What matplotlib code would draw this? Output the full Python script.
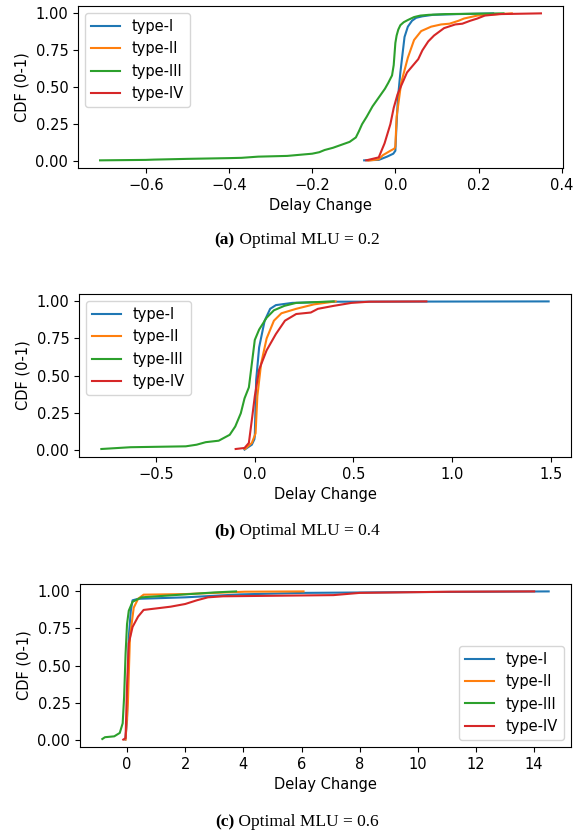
import matplotlib
matplotlib.use("Agg")
import matplotlib.pyplot as plt

plt.rcParams['font.family'] = ['DejaVu Sans']
plt.rcParams['font.size'] = 10.5

labels = ["type-I", "type-II", "type-III", "type-IV"]
colors = ["#1f77b4", "#ff7f0e", "#2ca02c", "#d62728"]

# (a) Optimal MLU = 0.2
a1_x = [-0.075, -0.04, -0.02, -0.005, 0.0, 0.002, 0.006, 0.012, 0.017, 0.022, 0.03, 0.04, 0.05, 0.065, 0.09, 0.15, 0.235]
a1_y = [0.005, 0.008, 0.03, 0.05, 0.07, 0.2, 0.42, 0.6, 0.72, 0.84, 0.91, 0.95, 0.97, 0.98, 0.99, 0.995, 1.0]
a2_x = [-0.065, -0.04, -0.03, -0.012, -0.002, 0.0, 0.003, 0.014, 0.03, 0.045, 0.062, 0.086, 0.11, 0.13, 0.152, 0.165, 0.197, 0.22, 0.28]
a2_y = [0.003, 0.012, 0.04, 0.07, 0.085, 0.1, 0.3, 0.53, 0.7, 0.82, 0.88, 0.91, 0.925, 0.93, 0.95, 0.965, 0.985, 0.99, 1.0]
a3_x = [-0.71, -0.6, -0.58, -0.5, -0.4, -0.37, -0.33, -0.26, -0.2, -0.183, -0.17, -0.15, -0.13, -0.11, -0.095, -0.088, -0.08, -0.069,
        -0.055, -0.04, -0.025, -0.017, -0.008, -0.004, 0.0, 0.003, 0.007, 0.012, 0.02, 0.03, 0.045, 0.06, 0.08, 0.12, 0.2, 0.26]
a3_y = [0.005, 0.008, 0.01, 0.015, 0.02, 0.022, 0.03, 0.035, 0.05, 0.06, 0.075, 0.09, 0.11, 0.13, 0.16, 0.2, 0.25, 0.3,
        0.37, 0.43, 0.49, 0.53, 0.58, 0.65, 0.8, 0.85, 0.89, 0.92, 0.94, 0.955, 0.975, 0.985, 0.99, 0.995, 0.998, 1.0]
a4_x = [-0.07, -0.04, -0.026, -0.012, -0.004, 0.005, 0.014, 0.028, 0.04, 0.055, 0.065, 0.079, 0.093, 0.117, 0.144, 0.161, 0.18, 0.197, 0.215, 0.25, 0.35]
a4_y = [0.005, 0.025, 0.12, 0.25, 0.36, 0.45, 0.51, 0.6, 0.64, 0.69, 0.75, 0.81, 0.85, 0.9, 0.925, 0.93, 0.95, 0.965, 0.985, 0.995, 1.0]

# (b) Optimal MLU = 0.4
b1_x = [-0.052, -0.015, -0.002, 0.0, 0.007, 0.022, 0.05, 0.078, 0.107, 0.19, 0.4, 1.49]
b1_y = [0.0, 0.033, 0.07, 0.09, 0.47, 0.69, 0.87, 0.95, 0.975, 0.99, 0.998, 1.0]
b2_x = [-0.05, -0.015, 0.004, 0.013, 0.032, 0.06, 0.097, 0.135, 0.21, 0.3, 0.41]
b2_y = [0.004, 0.045, 0.11, 0.36, 0.58, 0.75, 0.87, 0.92, 0.95, 0.98, 1.0]
b3_x = [-0.778, -0.63, -0.35, -0.295, -0.249, -0.183, -0.127, -0.099, -0.071, -0.052, -0.03, -0.015, 0.0, 0.022, 0.06, 0.097, 0.15, 0.21, 0.4]
b3_y = [0.004, 0.016, 0.022, 0.033, 0.05, 0.06, 0.1, 0.156, 0.245, 0.346, 0.42, 0.58, 0.74, 0.81, 0.89, 0.94, 0.97, 0.99, 1.0]
b4_x = [-0.097, -0.052, -0.03, -0.015, 0.0, 0.022, 0.06, 0.107, 0.153, 0.21, 0.284, 0.32, 0.4, 0.49, 0.58, 0.87]
b4_y = [0.004, 0.011, 0.045, 0.2, 0.36, 0.54, 0.67, 0.78, 0.87, 0.915, 0.925, 0.95, 0.97, 0.99, 0.998, 1.0]

# (c) Optimal MLU = 0.6
c1_x = [-0.06, 0.0, 0.06, 0.13, 0.19, 0.38, 2.0, 3.9, 6.07, 9.6, 14.5]
c1_y = [0.0, 0.13, 0.69, 0.87, 0.94, 0.95, 0.96, 0.98, 0.99, 0.995, 1.0]
c2_x = [-0.05, 0.03, 0.1, 0.23, 0.38, 0.57, 2.0, 4.05, 6.07]
c2_y = [0.0, 0.25, 0.69, 0.89, 0.95, 0.978, 0.982, 0.998, 1.0]
c3_x = [-0.85, -0.76, -0.44, -0.25, -0.15, -0.1, -0.05, 0.0, 0.06, 0.19, 0.5, 2.0, 3.0, 3.75]
c3_y = [0.004, 0.016, 0.022, 0.045, 0.11, 0.29, 0.58, 0.78, 0.87, 0.93, 0.96, 0.98, 0.993, 1.0]
c4_x = [-0.13, -0.05, 0.0, 0.06, 0.19, 0.38, 0.57, 1.0, 1.5, 2.0, 2.4, 2.78, 3.3, 7.1, 8.0, 11.1, 14.0]
c4_y = [0.0, 0.01, 0.36, 0.65, 0.76, 0.83, 0.875, 0.885, 0.897, 0.915, 0.94, 0.96, 0.967, 0.975, 0.99, 0.998, 1.0]

panels = [
    ([(a1_x, a1_y), (a2_x, a2_y), (a3_x, a3_y), (a4_x, a4_y)], "upper left", "(a)", "Optimal MLU = 0.2"),
    ([(b1_x, b1_y), (b2_x, b2_y), (b3_x, b3_y), (b4_x, b4_y)], "upper left", "(b)", "Optimal MLU = 0.4"),
    ([(c1_x, c1_y), (c2_x, c2_y), (c3_x, c3_y), (c4_x, c4_y)], "lower right", "(c)", "Optimal MLU = 0.6"),
]

W, H = 580, 834
fig = plt.figure(figsize=(W / 100, H / 100), dpi=100)

# axes boxes in pixels: left, top, right, bottom
boxes = [(78, 6, 563, 168), (79, 294, 571, 457), (80, 584, 571, 747)]
caption_y = [240, 531, 822]

renderer = fig.canvas.get_renderer()
for (series, loc, tag, rest), box, cy in zip(panels, boxes, caption_y):
    l, t, r, b = box
    ax = fig.add_axes([l / W, 1 - b / H, (r - l) / W, (b - t) / H])
    for (x, y), lab, col in zip(series, labels, colors):
        ax.plot(x, y, color=col, label=lab, lw=1.5)
    ax.set_yticks([0.0, 0.25, 0.5, 0.75, 1.0])
    ax.set_xlabel("Delay Change")
    ax.set_ylabel("CDF (0-1)")
    ax.legend(loc=loc)

    # caption: bold tag + normal text, centred together
    t1 = fig.text(0, 1 - cy / H, tag, fontweight='bold', family='Liberation Serif',
                  fontsize=12.5, va='center')
    t2 = fig.text(0, 1 - cy / H, " " + rest, family='Liberation Serif',
                  fontsize=12.5, va='center')
    w1 = t1.get_window_extent(renderer).width
    w2 = t2.get_window_extent(renderer).width
    x0 = 297 - (w1 + w2) / 2
    t1.set_x(x0 / W)
    t2.set_x((x0 + w1) / W)

fig.savefig("out.png", dpi=100)
